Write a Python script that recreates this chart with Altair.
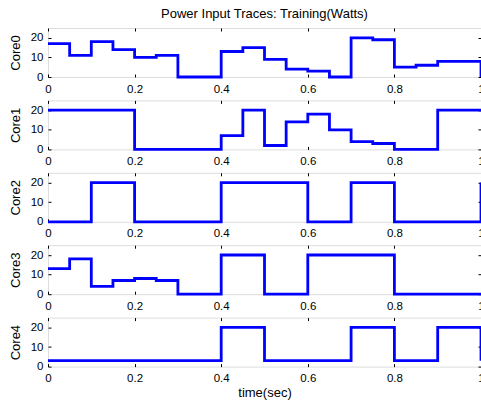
import altair as alt
import pandas as pd

# interval start times (sec); the value at 1.0 is the level the trace steps to at the right edge
times = [0.0, 0.05, 0.1, 0.15, 0.2, 0.25, 0.3, 0.35, 0.4, 0.45,
         0.5, 0.55, 0.6, 0.65, 0.7, 0.75, 0.8, 0.85, 0.9, 0.95, 1.0]

core0 = [17, 11, 18, 14, 10, 11, 0, 0, 13, 15, 9, 4, 3, 0, 20, 19, 5, 6, 8, 8, 0]
core1 = [20, 20, 20, 20, 0, 0, 0, 0, 7, 20, 2, 14, 18, 10, 4, 3, 0, 0, 20, 20, 20]
core2 = [0, 0, 20, 20, 0, 0, 0, 0, 20, 20, 20, 20, 0, 0, 20, 20, 0, 0, 0, 0, 20]
core3 = [13, 18, 4, 7, 8, 7, 0, 0, 20, 20, 0, 0, 20, 20, 20, 20, 0, 0, 0, 0, 0]
core4 = [3, 3, 3, 3, 3, 3, 3, 3, 20, 20, 3, 3, 3, 3, 20, 20, 3, 3, 20, 20, 3]

cores = ["Core0", "Core1", "Core2", "Core3", "Core4"]
series = [core0, core1, core2, core3, core4]

x_ticks = [0, 0.2, 0.4, 0.6, 0.8, 1]
y_ticks = [0, 10, 20]

FONT = "Liberation Sans"
INWARD = {"expr": "-3"}

panels = []
for i, (name, vals) in enumerate(zip(cores, series)):
    df = pd.DataFrame({"t": times, "v": vals})
    last = i == len(cores) - 1
    xs = alt.Scale(domain=[0, 1], nice=False, zero=False)
    ys = alt.Scale(domain=[0, 25], nice=False)
    bottom_axis = alt.Axis(
        values=x_ticks, format="~g", grid=False, domain=False,
        tickSize=INWARD, tickColor="black", labelPadding=9, labelFlush=False,
        labelFontSize=11.5, labelColor="black", labelFont=FONT,
        title="time(sec)" if last else None,
        titleFont=FONT, titleFontSize=13, titleFontWeight="normal",
        titleColor="black", titlePadding=2,
    )
    left_axis = alt.Axis(
        values=y_ticks, grid=False, domain=False,
        tickSize=INWARD, tickColor="black", labelPadding=8,
        labelFontSize=11.5, labelColor="black", labelFont=FONT,
        title=name, titleFont=FONT, titleFontSize=13,
        titleFontWeight="normal", titleColor="black", titlePadding=8,
    )
    top_axis = alt.Axis(
        orient="top", values=x_ticks, grid=False, domain=False, labels=False,
        tickSize=INWARD, tickColor="black", title=None,
    )
    right_axis = alt.Axis(
        orient="right", values=y_ticks, grid=False, domain=False, labels=False,
        tickSize=INWARD, tickColor="black", title=None,
    )
    base = alt.Chart(df)
    line = base.mark_line(
        interpolate="step-after", color="#0000ff", strokeWidth=2.8
    ).encode(
        x=alt.X("t:Q", scale=xs, axis=bottom_axis),
        y=alt.Y("v:Q", scale=ys, axis=left_axis),
    )
    mirror = base.mark_line(opacity=0).encode(
        x=alt.X("t:Q", scale=xs, axis=top_axis),
        y=alt.Y("v:Q", scale=ys, axis=right_axis),
    )
    panel = alt.layer(mirror, line).resolve_axis(
        x="independent", y="independent"
    ).properties(width=433, height=49)
    panels.append(panel)

chart = alt.vconcat(
    *panels,
    spacing=23.4,
    bounds="flush",
    title=alt.TitleParams(
        "Power Input Traces: Training(Watts)",
        anchor="middle", frame="group", font=FONT, fontSize=13,
        fontWeight="normal", color="black", baseline="alphabetic", offset=-4,
    ),
).properties(
    autosize=alt.AutoSizeParams(type="none"),
    padding={"left": 48, "top": 28, "right": 0, "bottom": 374},
).configure_view(
    stroke="black", strokeWidth=1
).configure(background="white")

chart.save("out.html", embed_options={"renderer": "svg", "actions": False})
